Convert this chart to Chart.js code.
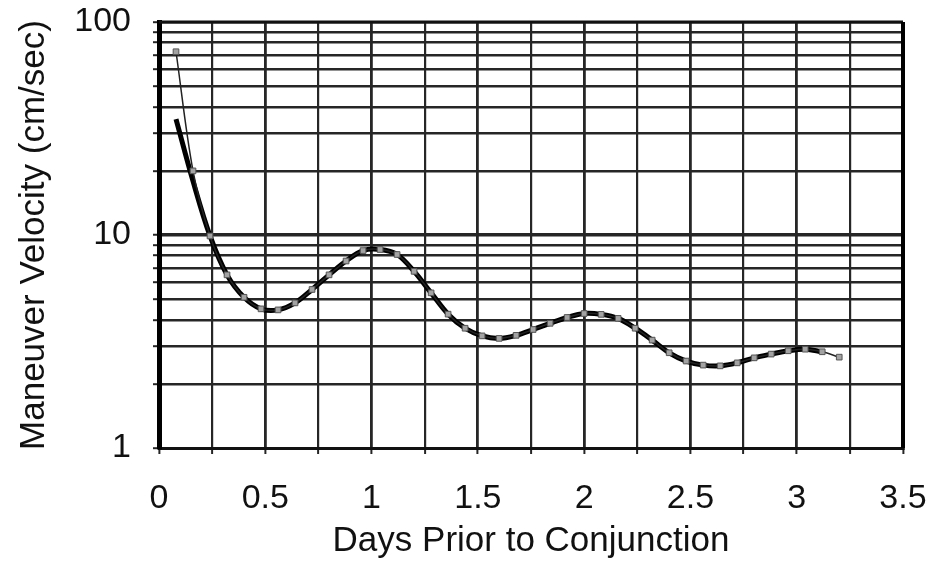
<!DOCTYPE html>
<html>
<head>
<meta charset="utf-8">
<script src="https://cdn.jsdelivr.net/npm/chart.js@4.4.1/dist/chart.umd.min.js"></script>
<style>
  html, body { margin: 0; padding: 0; background: #fff; }
  #wrap { width: 938px; height: 561px; }
</style>
</head>
<body>
<div id="wrap"><canvas id="c" width="938" height="561"></canvas></div>
<script>
// ---- data ----
const days = [0.08, 0.16, 0.24, 0.32, 0.40, 0.48, 0.56, 0.64, 0.72, 0.80,
              0.88, 0.96, 1.04, 1.12, 1.20, 1.28, 1.36, 1.44, 1.52, 1.60,
              1.68, 1.76, 1.84, 1.92, 2.00, 2.08, 2.16, 2.24, 2.32, 2.40,
              2.48, 2.56, 2.64, 2.72, 2.80, 2.88, 2.96, 3.04, 3.12, 3.20];
const markerVelocity = [72.5, 20.0, 9.9, 6.5, 5.1, 4.5, 4.45, 4.8, 5.55, 6.5,
                        7.55, 8.45, 8.55, 8.1, 6.75, 5.35, 4.25, 3.65, 3.36, 3.27,
                        3.38, 3.6, 3.85, 4.1, 4.28, 4.24, 4.06, 3.65, 3.21, 2.8,
                        2.56, 2.45, 2.43, 2.51, 2.65, 2.76, 2.86, 2.91, 2.83, 2.67];
const fitVelocity = [35.0, 17.9, 9.9, 6.5, 5.1, 4.5, 4.45, 4.8, 5.55, 6.5,
                     7.55, 8.45, 8.55, 8.1, 6.75, 5.35, 4.25, 3.65, 3.36, 3.27,
                     3.38, 3.6, 3.85, 4.1, 4.28, 4.24, 4.06, 3.65, 3.21, 2.8,
                     2.56, 2.45, 2.43, 2.51, 2.65, 2.76, 2.86, 2.91, 2.83, null];
const yTickValues = [1, 2, 3, 4, 5, 6, 7, 8, 9, 10, 20, 30, 40, 50, 60, 70, 80, 90, 100];
const yTickLabels = [1, 10, 100];
const xTickLabels = [0, 0.5, 1, 1.5, 2, 2.5, 3, 3.5];
const xTitle = 'Days Prior to Conjunction';
const yTitle = 'Maneuver Velocity (cm/sec)';

const toPoints = (xs, ys) => xs.map((x, i) => ({ x: x, y: ys[i] }));

const FONT = "'Liberation Sans', Arial, Helvetica, sans-serif";
const GRID = '#262626';

const clearPadding = (s) => { s.paddingTop = 0; s.paddingBottom = 0; s.paddingLeft = 0; s.paddingRight = 0; };

const framePlugin = {
  id: 'frame',
  afterDatasetsDraw(chart) {
    const { ctx, chartArea: a } = chart;
    ctx.save();
    ctx.strokeStyle = '#111';
    ctx.lineWidth = 3;
    ctx.beginPath();
    ctx.moveTo(a.left, a.top);
    ctx.lineTo(a.right, a.top);
    ctx.stroke();
    ctx.lineWidth = 4;
    ctx.strokeStyle = '#000';
    ctx.beginPath();
    ctx.moveTo(a.right, a.top);
    ctx.lineTo(a.right, a.bottom);
    ctx.stroke();
    ctx.restore();
  }
};

new Chart(document.getElementById('c'), {
  type: 'line',
  data: {
    datasets: [
      {
        label: 'markers',
        data: toPoints(days, markerVelocity),
        order: 0,
        borderColor: '#222',
        borderWidth: 1.5,
        pointStyle: 'rect',
        pointRadius: 4,
        pointBackgroundColor: '#a3a3a3',
        pointBorderColor: '#555',
        pointBorderWidth: 1,
        tension: 0.35,
        fill: false
      },
      {
        label: 'fit',
        data: toPoints(days, fitVelocity),
        order: 1,
        borderColor: '#000',
        borderWidth: 5,
        pointRadius: 0,
        tension: 0.35,
        spanGaps: false,
        fill: false
      }
    ]
  },
  options: {
    responsive: false,
    animation: false,
    devicePixelRatio: 1,
    layout: { padding: { top: 22, right: 35, left: 0, bottom: 0 } },
    plugins: {
      legend: { display: false },
      tooltip: { enabled: false },
      title: { display: false }
    },
    scales: {
      x: {
        type: 'linear',
        min: 0,
        max: 3.5,
        afterFit: (s) => { s.height = 113; clearPadding(s); },
        ticks: {
          stepSize: 0.25,
          autoSkip: false,
          maxRotation: 0,
          padding: 28,
          color: '#111',
          font: { family: FONT, size: 34, lineHeight: 1.0 },
          callback: (v) => xTickLabels.some(t => Math.abs(t - v) < 1e-9) ? String(v) : ''
        },
        grid: {
          color: GRID,
          lineWidth: (c) => (c.tick && Math.abs(c.tick.value * 2 - Math.round(c.tick.value * 2)) < 1e-9) ? 2.8 : 2.2,
          tickLength: 6,
          tickColor: GRID,
          tickWidth: 2
        },
        border: { display: true, color: '#111', width: 3 },
        title: {
          display: true,
          text: xTitle,
          color: '#111',
          font: { family: FONT, size: 35, lineHeight: 1.0 },
          padding: { top: 0, bottom: 2.5 }
        }
      },
      y: {
        type: 'logarithmic',
        min: 1,
        max: 100,
        afterFit: (s) => { s.width = 159; clearPadding(s); },
        afterBuildTicks: (s) => { s.ticks = yTickValues.map(v => ({ value: v })); },
        ticks: {
          autoSkip: false,
          padding: 22,
          color: '#111',
          font: { family: FONT, size: 34, lineHeight: 1.0 },
          callback: (v) => yTickLabels.includes(v) ? String(v) : ''
        },
        grid: {
          color: GRID,
          lineWidth: (c) => (c.tick && (c.tick.value === 10)) ? 3.5 : 2.4,
          tickLength: 6,
          tickColor: GRID,
          tickWidth: 2
        },
        border: { display: true, color: '#000', width: 5 },
        title: {
          display: true,
          text: yTitle,
          color: '#111',
          font: { family: FONT, size: 35, lineHeight: 1.0 },
          padding: { top: 17, bottom: 0 }
        }
      }
    }
  },
  plugins: [framePlugin]
});
</script>
</body>
</html>
